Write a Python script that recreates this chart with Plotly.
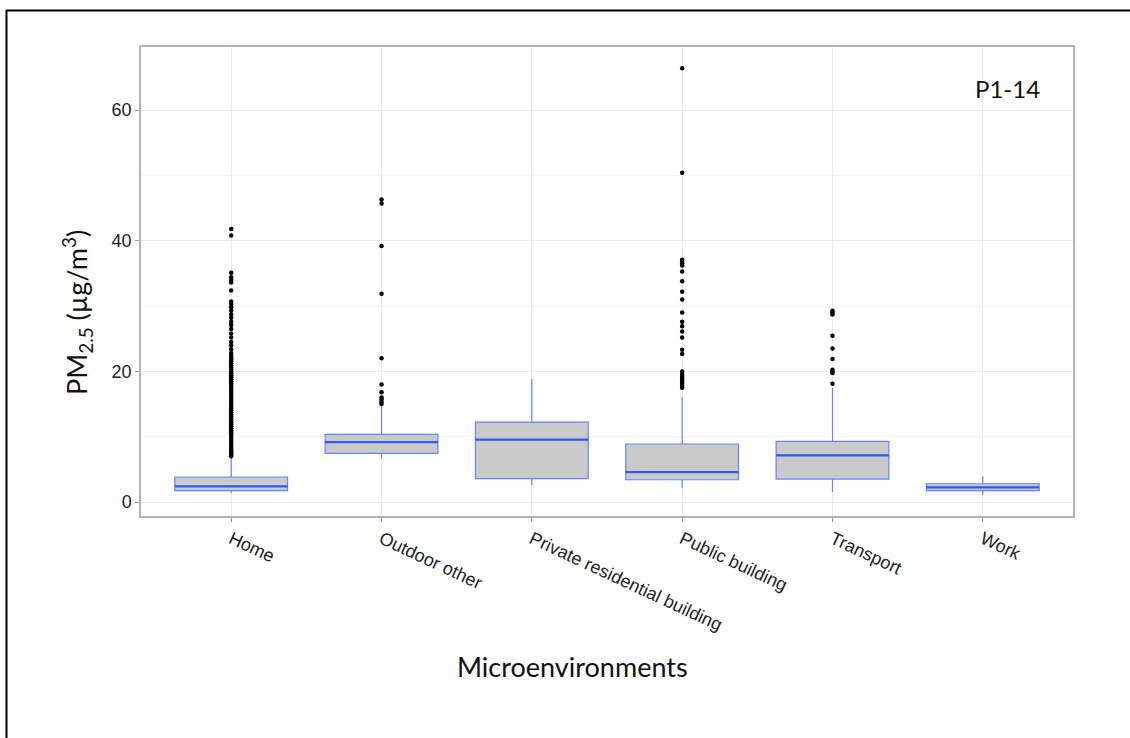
import plotly.graph_objects as go

categories = ["Home", "Outdoor other", "Private residential building",
              "Public building", "Transport", "Work"]

q1 = [1.73, 7.45, 3.57, 3.41, 3.52, 1.73]
median = [2.39, 9.18, 9.54, 4.59, 7.14, 2.24]
q3 = [3.83, 10.36, 12.24, 8.88, 9.28, 2.80]
lower_fence = [1.38, 6.68, 2.55, 2.14, 1.53, 1.12]
upper_fence = [6.98, 14.9, 18.87, 16.07, 17.45, 3.92]

out_home = [7.0, 7.2, 7.4, 7.6, 7.8, 8.0, 8.3, 8.6, 8.9, 9.2, 9.5, 9.8, 10.1, 10.4,
            10.7, 11.0, 11.3, 11.6, 11.9, 12.2, 12.5, 12.8, 13.1, 13.4, 13.7, 14.0,
            14.3, 14.6, 14.9, 15.2, 15.5, 15.8, 16.1, 16.4, 16.7, 17.0, 17.3, 17.6,
            17.9, 18.2, 18.5, 18.8, 19.1, 19.4, 19.7, 20.0, 20.3, 20.6, 20.9, 21.2,
            21.5, 21.8, 22.1, 22.4, 22.8, 23.4, 24.0, 24.5, 25.2, 25.8, 26.5, 27.1,
            27.6, 28.2, 28.7, 29.3, 29.8, 30.3, 30.7, 32.4, 33.6, 34.0, 34.4, 35.1,
            40.8, 41.8]
out_outdoor = [15.0, 15.3, 15.7, 16.0, 16.8, 18.0, 22.0, 31.9, 39.2, 45.7, 46.3]
out_private = []
out_public = [17.5, 17.8, 18.1, 18.4, 18.7, 19.0, 19.3, 19.6, 20.0, 22.65, 23.3,
              25.2, 26.1, 26.9, 27.6, 29.0, 31.0, 32.2, 33.8, 35.3, 36.2, 36.5,
              36.8, 37.1, 50.4, 66.4]
out_transport = [18.1, 19.75, 20.0, 20.25, 21.9, 23.5, 25.45, 28.7, 29.0, 29.3]
out_work = []

y_ticks = [0, 20, 40, 60]

outliers = [out_home, out_outdoor, out_private, out_public, out_transport, out_work]

BOX_LINE = "#6384FF"
MED_LINE = "#3258F2"

fig = go.Figure()
fig.add_trace(go.Box(
    x=categories, q1=q1, median=median, q3=q3,
    lowerfence=lower_fence, upperfence=upper_fence,
    fillcolor="#CACACA", line=dict(color=BOX_LINE, width=1.2),
    whiskerwidth=0, width=0.75, boxpoints=False, showlegend=False,
))
# thicker median line (ggplot fatten)
fig.add_trace(go.Box(
    x=categories, q1=median, median=median, q3=median,
    lowerfence=median, upperfence=median,
    fillcolor="rgba(0,0,0,0)", line=dict(color=MED_LINE, width=2.2),
    whiskerwidth=0, width=0.75, boxpoints=False, showlegend=False,
))

ox, oy = [], []
for cat, vals in zip(categories, outliers):
    ox += [cat] * len(vals)
    oy += vals
fig.add_trace(go.Scatter(
    x=ox, y=oy, mode="markers",
    marker=dict(color="black", size=4.5), showlegend=False,
))

L, R, T, B = 141, 1073, 47, 516
W, H = 1130, 738

def px(x):
    return (x - L) / (R - L)

def py(y):
    return (B - y) / (B - T)

TICKFONT = dict(family="Liberation Sans, Arial", size=18, color="#222222")
TITLEFONT = "Lato"

fig.update_layout(
    width=W, height=H,
    margin=dict(l=L, r=W - R, t=T, b=H - B),
    paper_bgcolor="white", plot_bgcolor="white",
    boxmode="overlay",
    xaxis=dict(
        type="category", categoryorder="array", categoryarray=categories,
        range=[-0.6, 5.6],
        showgrid=True, gridcolor="#EBEBEB", gridwidth=1,
        ticks="outside", ticklen=4, tickcolor="#999999",
        tickangle=25,
        tickfont=TICKFONT,
        showline=True, linecolor="#B3B3B3", linewidth=1.5, mirror=True,
        zeroline=False,
    ),
    yaxis=dict(
        range=[-2.14, 69.66],
        tickvals=y_ticks,
        showgrid=True, gridcolor="#EBEBEB", gridwidth=1,
        minor=dict(dtick=10, tick0=0, showgrid=True, gridcolor="#F4F4F4", gridwidth=1),
        ticks="outside", ticklen=4, tickcolor="#999999",
        tickfont=TICKFONT,
        showline=True, linecolor="#B3B3B3", linewidth=1.5, mirror=True,
        zeroline=False,
    ),
    annotations=[
        dict(text="PM<sub>2.5</sub> (µg/m<sup>3</sup>)", textangle=-90,
             x=px(77), y=py(313), xref="paper", yref="paper",
             xanchor="center", yanchor="middle",
             showarrow=False, font=dict(family=TITLEFONT, size=27, color="#111111")),
        dict(text="Microenvironments",
             x=px(572), y=py(666), xref="paper", yref="paper",
             xanchor="center", yanchor="middle",
             showarrow=False, font=dict(family=TITLEFONT, size=27, color="#111111")),
        dict(text="P1-14",
             x=px(1007), y=py(88), xref="paper", yref="paper",
             xanchor="center", yanchor="middle",
             showarrow=False, font=dict(family=TITLEFONT, size=24, color="#111111")),
    ],
    shapes=[
        dict(type="line", xref="paper", yref="paper",
             x0=px(6), x1=px(1140), y0=py(10.5), y1=py(10.5),
             line=dict(color="black", width=2)),
        dict(type="line", xref="paper", yref="paper",
             x0=px(6.5), x1=px(6.5), y0=py(10), y1=py(745),
             line=dict(color="black", width=2)),
    ],
)

fig.write_html("out.html")
